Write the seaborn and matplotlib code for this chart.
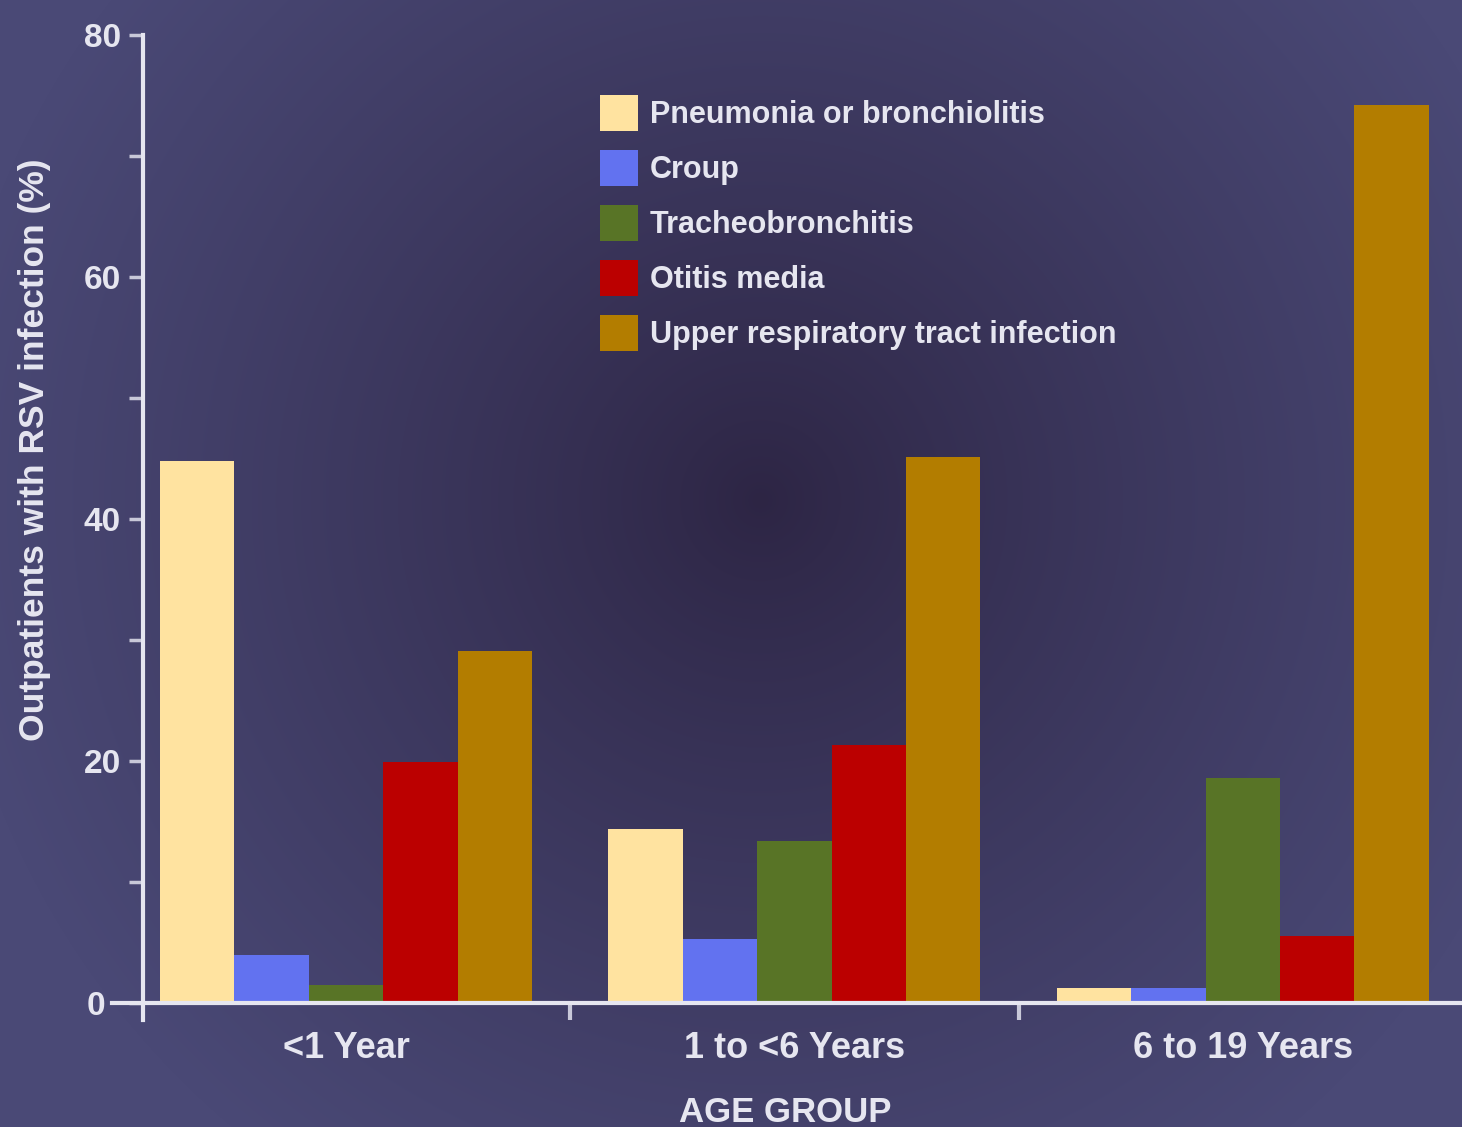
import numpy as np
import pandas as pd
import matplotlib
matplotlib.use("Agg")
import matplotlib.pyplot as plt
import matplotlib.transforms as mtrans
import seaborn as sns
from matplotlib.ticker import FixedLocator

# ---- data ----
age_groups = ["<1 Year", "1 to <6 Years", "6 to 19 Years"]
diagnoses = ["Pneumonia or bronchiolitis", "Croup", "Tracheobronchitis",
             "Otitis media", "Upper respiratory tract infection"]
pneumonia = [44.8, 14.4, 1.2]
croup = [4.0, 5.3, 1.2]
tracheo = [1.5, 13.4, 18.6]
otitis = [19.9, 21.3, 5.5]
urti = [29.1, 45.1, 74.2]
y_ticks = [0, 20, 40, 60, 80]
y_minor = [10, 30, 50, 70]
colors = ["#FFE3A0", "#6272F0", "#587426", "#BB0000", "#B37D00"]

series = [pneumonia, croup, tracheo, otitis, urti]
rows = []
for d, vals in zip(diagnoses, series):
    for g, v in zip(age_groups, vals):
        rows.append({"Age group": g, "Diagnosis": d, "Value": v})
df = pd.DataFrame(rows)

sns.set_theme(style="white")
FONT = ["Liberation Sans Narrow", "Liberation Sans", "DejaVu Sans"]
plt.rcParams["font.family"] = FONT
TXT = "#E6E6F0"

W, H = 1462, 1127
fig = plt.figure(figsize=(W / 100, H / 100), dpi=100)
fig.patch.set_facecolor("#47466F")

# radial gradient background
bg = fig.add_axes([0, 0, 1, 1], zorder=-10)
yy, xx = np.mgrid[0:H, 0:W]
r = np.sqrt((xx - 760) ** 2 + (yy - 500) ** 2) / 820.0
r = np.clip(r, 0, 1)
c_in = np.array([0x2D, 0x25, 0x44]) / 255.0
c_out = np.array([0x4A, 0x49, 0x76]) / 255.0
t = r[..., None] ** 0.85
img = c_in * (1 - t) + c_out * t
bg.imshow(img, extent=[0, W, H, 0], aspect="auto", interpolation="bilinear")
bg.set_axis_off()

# main axes
left, right = 143, 1462
y0_px, y80_px = 1003, 35
ax = fig.add_axes([left / W, (H - y0_px) / H, (right - left) / W, (y0_px - y80_px) / H])
ax.patch.set_alpha(0)

sns.barplot(data=df, x="Age group", y="Value", hue="Diagnosis",
            order=age_groups, hue_order=diagnoses, palette=colors,
            width=0.83, saturation=1, ax=ax, edgecolor="none", linewidth=0)

ax.set_xlim(-0.453, 2.489)
ax.set_ylim(0, 80)

for s in ["top", "right"]:
    ax.spines[s].set_visible(False)
for s in ["left", "bottom"]:
    ax.spines[s].set_color(TXT)
    ax.spines[s].set_linewidth(3)
    ax.spines[s].set_zorder(5)
ax.spines["bottom"].set_bounds(-0.522, 2.489)
ax.spines["left"].set_bounds(-1.4, 80)

ax.set_yticks(y_ticks)
ax.yaxis.set_minor_locator(FixedLocator(y_minor))
ax.tick_params(axis="y", which="both", direction="out", length=10, width=2.5,
               color="#C8C8D8", left=True, pad=6)
ax.tick_params(axis="y", which="major", labelsize=24, labelcolor=TXT)
for lab in ax.get_yticklabels():
    lab.set_fontweight("bold")
# the zero label sits left of the extended x-axis line
zero_lab = ax.get_yticklabels()[0]
zero_lab.set_transform(zero_lab.get_transform() +
                       mtrans.ScaledTranslation(-16 / 100, 0, fig.dpi_scale_trans))

ax.xaxis.set_minor_locator(FixedLocator([0.5, 1.5]))
ax.tick_params(axis="x", which="major", length=0, pad=20, labelsize=26, labelcolor=TXT)
ax.tick_params(axis="x", which="minor", direction="out", length=12, width=3,
               color="#C8C8D8", bottom=True)
for lab in ax.get_xticklabels():
    lab.set_fontweight("bold")

ax.set_xlabel("")
ax.set_ylabel("")

fig.text(35 / W, 1 - 450 / H, "Outpatients with RSV infection (%)", rotation=90,
         ha="center", va="center", color=TXT, fontsize=25.5, fontweight="bold")
fig.text(785 / W, 1 - 1112 / H, "AGE GROUP", ha="center", va="center",
         color=TXT, fontsize=25, fontweight="bold")

leg = ax.legend(loc="upper left",
                bbox_to_anchor=((600 - left) / (right - left), (y0_px - 95) / (y0_px - y80_px)),
                frameon=False, fontsize=22, handlelength=1.24, handleheight=1.45,
                handletextpad=0.4, labelspacing=0.61, borderpad=0, borderaxespad=0)
for txt in leg.get_texts():
    txt.set_color(TXT)
    txt.set_fontweight("bold")

fig.savefig("out.png", dpi=100, facecolor=fig.get_facecolor())
